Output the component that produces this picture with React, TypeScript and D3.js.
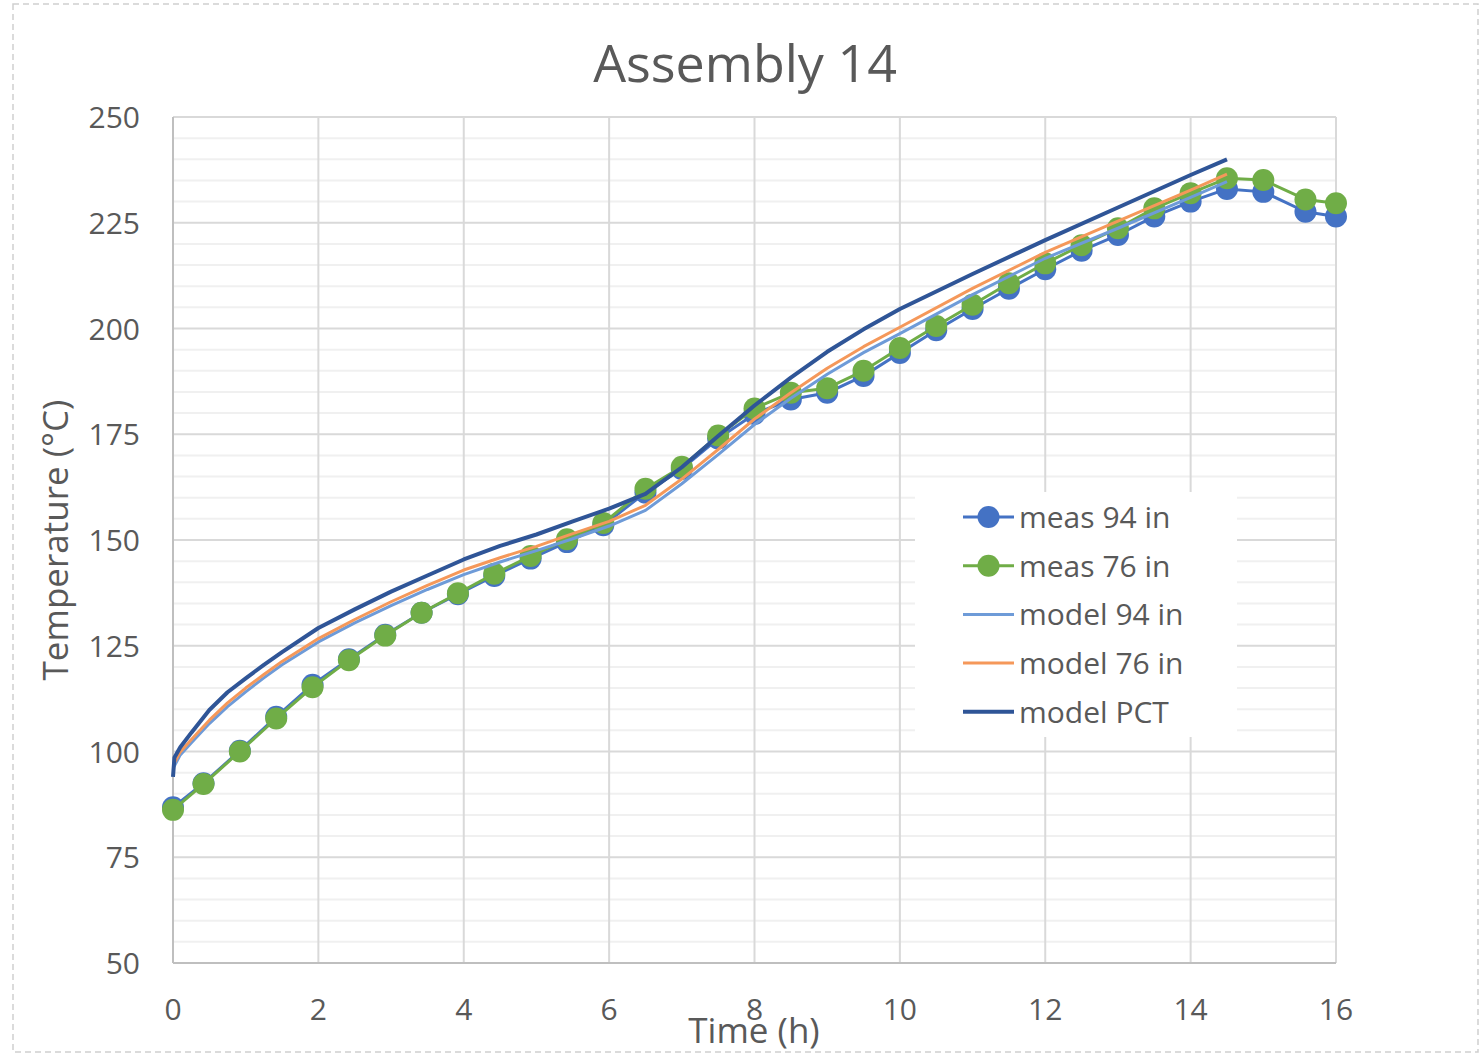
import * as d3 from "d3";

// measured thermocouple data (time in h, temperature in °C)
const measTime = [0, 0.42, 0.92, 1.42, 1.92, 2.42, 2.92, 3.42, 3.92, 4.42, 4.92, 5.42, 5.92, 6.5, 7, 7.5, 8, 8.5, 9, 9.5, 10, 10.5, 11, 11.5, 12, 12.5, 13, 13.5, 14, 14.5, 15, 15.58, 16];
const meas94 = [86.8, 92.5, 100.2, 108.2, 115.8, 121.8, 127.6, 132.8, 137.2, 141.5, 145.6, 149.5, 153.5, 161.2, 166.8, 174.0, 179.8, 183.2, 184.8, 188.8, 194.2, 199.6, 204.6, 209.4, 214.0, 218.4, 222.1, 226.5, 230.0, 233.0, 232.3, 227.6, 226.5];
const meas76 = [86.2, 92.3, 100.0, 107.8, 115.2, 121.6, 127.4, 132.8, 137.4, 142.0, 146.2, 150.2, 154.0, 162.1, 167.3, 174.7, 181.1, 184.8, 185.9, 190.0, 195.4, 200.6, 205.6, 210.7, 215.4, 219.7, 223.7, 228.4, 232.0, 235.5, 235.1, 230.5, 229.6];

// model predictions
const modelTime = [0, 0.02, 0.1, 0.25, 0.5, 0.75, 1, 1.25, 1.5, 2, 2.5, 3, 3.5, 4, 4.5, 5, 5.5, 6, 6.5, 7, 7.5, 8, 8.5, 9, 9.5, 10, 11, 12, 13, 14, 14.5];
const model94 = [96.3, 96.6, 99.2, 102.0, 106.6, 110.6, 114.1, 117.4, 120.5, 125.9, 130.4, 134.5, 138.3, 141.8, 144.8, 147.5, 150.3, 153.3, 157.0, 163.3, 170.2, 177.3, 183.5, 189.2, 194.3, 198.8, 208.0, 216.6, 223.7, 231.0, 234.7];
const model76 = [97.0, 97.3, 99.9, 102.8, 107.4, 111.5, 115.0, 118.2, 121.3, 126.7, 131.2, 135.4, 139.3, 142.9, 145.8, 148.5, 151.5, 154.4, 158.2, 164.4, 171.4, 178.6, 184.8, 190.6, 195.7, 200.3, 209.5, 218.0, 225.4, 232.7, 236.5];
const modelPCT = [94.0, 98.6, 101.0, 104.4, 109.8, 114.0, 117.3, 120.5, 123.5, 129.2, 133.6, 137.8, 141.6, 145.4, 148.6, 151.3, 154.4, 157.4, 160.9, 167.2, 174.6, 181.8, 188.4, 194.5, 199.8, 204.6, 212.9, 220.9, 228.6, 236.3, 240.0];

const xTicks = [0, 2, 4, 6, 8, 10, 12, 14, 16];
const yTicks = [50, 75, 100, 125, 150, 175, 200, 225, 250];
const yMinor = d3.range(50, 251, 5);

const FONT = "'Open Sans', 'Noto Sans', sans-serif";
const TXT = "#595959";

const series = [
  { name: "meas 94 in", t: measTime, v: meas94, color: "#4472C4", width: 3, marker: true },
  { name: "meas 76 in", t: measTime, v: meas76, color: "#70AD47", width: 3, marker: true },
  { name: "model 94 in", t: modelTime, v: model94, color: "#6E9BD8", width: 3, marker: false },
  { name: "model 76 in", t: modelTime, v: model76, color: "#F5985A", width: 3, marker: false },
  { name: "model PCT", t: modelTime, v: modelPCT, color: "#2F5597", width: 4, marker: false },
];

export default function App() {
  const W = 1483, H = 1055;
  const left = 173, right = 1336, top = 117, bottom = 963;
  const x = d3.scaleLinear().domain([0, 16]).range([left, right]);
  const y = d3.scaleLinear().domain([50, 250]).range([bottom, top]);

  const line = d3.line<[number, number]>()
    .x((d) => x(d[0]))
    .y((d) => y(d[1]));

  const legX = 915, legY = 492, legW = 322, legH = 245, rowH = 48.7;

  return (
    <svg width={W} height={H} style={{ position: "absolute", left: 0, top: 0, background: "#fff" }} fontFamily={FONT}>
      <rect x={13} y={4} width={1465} height={1048} fill="#fff" stroke="#D0D0D0" strokeWidth={1.5} strokeDasharray="6 4" />
      <text x={745} y={82} textAnchor="middle" fontSize={52} fill={TXT}>Assembly 14</text>

      {/* minor gridlines */}
      {yMinor.filter((v) => v % 25 !== 0).map((v) => (
        <line key={"m" + v} x1={left} x2={right} y1={y(v)} y2={y(v)} stroke="#F0F0F0" strokeWidth={2} />
      ))}
      {/* major gridlines */}
      {yTicks.map((v) => (
        <line key={"gy" + v} x1={left} x2={right} y1={y(v)} y2={y(v)} stroke="#D9D9D9" strokeWidth={2} />
      ))}
      {xTicks.map((v) => (
        <line key={"gx" + v} x1={x(v)} x2={x(v)} y1={top} y2={bottom} stroke="#D9D9D9" strokeWidth={2} />
      ))}
      <line x1={left} x2={left} y1={top} y2={bottom} stroke="#BFBFBF" strokeWidth={2} />
      <line x1={left} x2={right} y1={bottom} y2={bottom} stroke="#BFBFBF" strokeWidth={2} />

      {/* tick labels */}
      {yTicks.map((v) => (
        <text key={"ty" + v} x={140} y={y(v) + 11} textAnchor="end" fontSize={30} fill={TXT}>{v}</text>
      ))}
      {xTicks.map((v) => (
        <text key={"tx" + v} x={x(v)} y={1020} textAnchor="middle" fontSize={30} fill={TXT}>{v}</text>
      ))}

      <text x={754} y={1043} textAnchor="middle" fontSize={35} fill={TXT}>Time (h)</text>
      <text transform={`translate(68,540) rotate(-90)`} textAnchor="middle" fontSize={35} fill={TXT}>Temperature (°C)</text>

      {/* series */}
      {series.map((s) => {
        const pts = s.t.map((t, i) => [t, s.v[i]] as [number, number]);
        return (
          <g key={s.name}>
            <path d={line(pts) ?? ""} fill="none" stroke={s.color} strokeWidth={s.width} strokeLinejoin="round" />
            {s.marker && pts.map((p, i) => (
              <circle key={i} cx={x(p[0])} cy={y(p[1])} r={11} fill={s.color} />
            ))}
          </g>
        );
      })}

      {/* legend */}
      <rect x={legX} y={legY} width={legW} height={legH} fill="#fff" />
      {series.map((s, i) => {
        const cy = legY + 25 + i * rowH;
        return (
          <g key={"leg" + s.name}>
            <line x1={963} x2={1014} y1={cy} y2={cy} stroke={s.color} strokeWidth={s.width} />
            {s.marker && <circle cx={988.5} cy={cy} r={11} fill={s.color} />}
            <text x={1019} y={cy + 11} fontSize={30} fill={TXT}>{s.name}</text>
          </g>
        );
      })}
    </svg>
  );
}
